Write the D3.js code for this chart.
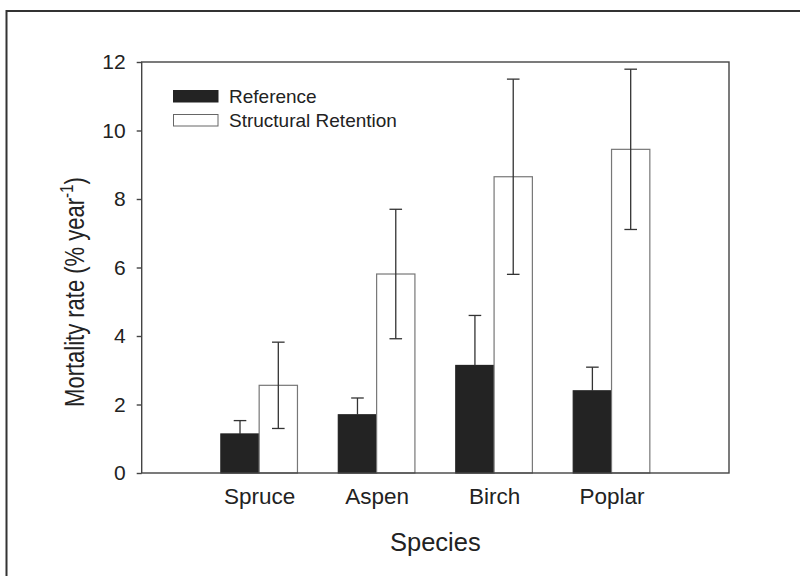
<!DOCTYPE html>
<html>
<head>
<meta charset="utf-8">
<script src="https://cdn.jsdelivr.net/npm/d3@7"></script>
<style>
  html, body { margin: 0; padding: 0; background: #fff; }
  svg { display: block; }
  text { font-family: "Liberation Sans", Arial, sans-serif; fill: #222; }
</style>
</head>
<body>
<svg id="chart" width="800" height="576"></svg>
<script>
const categories = ["Spruce", "Aspen", "Birch", "Poplar"];
const seriesNames = ["Reference", "Structural Retention"];
const referenceValues = [1.14, 1.70, 3.14, 2.40];
const referenceErrors = [0.39, 0.49, 1.46, 0.69];
const retentionValues = [2.56, 5.81, 8.65, 9.45];
const retentionErrors = [1.26, 1.89, 2.85, 2.34];
const yTicks = [0, 2, 4, 6, 8, 10, 12];

(function () {
const svg = d3.select("#chart");
const pLeft = 141.7, pRight = 729, pTop = 62, pBottom = 473;

// outer frame
svg.append("rect")
  .attr("x", 6.5).attr("y", 11).attr("width", 900).attr("height", 700)
  .attr("fill", "none").attr("stroke", "#333").attr("stroke-width", 2);

const x = d3.scalePoint().domain(categories).range([pLeft, pRight]).padding(1);
const y = d3.scaleLinear().domain([0, 12]).range([pBottom, pTop]);
const barW = 38.3;

const rows = categories.map((c, i) => ([
  { cat: c, s: 0, v: referenceValues[i], e: referenceErrors[i] },
  { cat: c, s: 1, v: retentionValues[i], e: retentionErrors[i] }
])).flat();

// bars
svg.append("g").selectAll("rect").data(rows).join("rect")
  .attr("x", d => x(d.cat) + (d.s === 0 ? -barW : 0))
  .attr("y", d => y(d.v))
  .attr("width", barW)
  .attr("height", d => y(0) - y(d.v))
  .attr("fill", d => d.s === 0 ? "#232323" : "#fff")
  .attr("stroke", d => d.s === 0 ? "#232323" : "#777")
  .attr("stroke-width", 1.2);

// error bars
const eg = svg.append("g").attr("stroke", "#333").attr("stroke-width", 1.3);
rows.forEach(d => {
  const cx = x(d.cat) + (d.s === 0 ? -barW / 2 : barW / 2);
  const lo = d.s === 0 ? d.v : d.v - d.e;
  eg.append("line").attr("x1", cx).attr("x2", cx).attr("y1", y(d.v + d.e)).attr("y2", y(lo));
  eg.append("line").attr("x1", cx - 6.3).attr("x2", cx + 6.3).attr("y1", y(d.v + d.e)).attr("y2", y(d.v + d.e));
  if (d.s === 1) {
    eg.append("line").attr("x1", cx - 6.3).attr("x2", cx + 6.3).attr("y1", y(d.v - d.e)).attr("y2", y(d.v - d.e));
  }
});

// plot box
svg.append("rect")
  .attr("x", pLeft).attr("y", pTop).attr("width", pRight - pLeft).attr("height", pBottom - pTop)
  .attr("fill", "none").attr("stroke", "#444").attr("stroke-width", 1.4);

// y axis
const yAxis = svg.append("g").attr("transform", `translate(${pLeft},0)`)
  .call(d3.axisLeft(y).tickValues(yTicks).tickSize(5).tickPadding(11).tickFormat(d3.format("d")));
yAxis.select(".domain").remove();
yAxis.selectAll("line").attr("stroke", "#444").attr("stroke-width", 1.4);
yAxis.selectAll("text").style("font-size", "21px").attr("fill", "#222")
  .style("font-family", "'Liberation Sans', Arial, sans-serif");

// x axis labels (no ticks)
const xAxis = svg.append("g").attr("transform", `translate(0,${pBottom})`)
  .call(d3.axisBottom(x).tickSize(0).tickPadding(15));
xAxis.select(".domain").remove();
xAxis.selectAll("text").style("font-size", "22.5px").attr("fill", "#222")
  .style("font-family", "'Liberation Sans', Arial, sans-serif");

// axis titles
svg.append("text").attr("x", (pLeft + pRight) / 2).attr("y", 551)
  .attr("text-anchor", "middle").style("font-size", "25.5px").text("Species");

const yl = svg.append("text")
  .attr("transform", "translate(84,292) rotate(-90) scale(0.8,1)")
  .attr("text-anchor", "middle").style("font-size", "27.5px");
yl.append("tspan").text("Mortality rate (% year");
yl.append("tspan").attr("dy", -11).style("font-size", "19px").text("-1");
yl.append("tspan").attr("dy", 11).text(")");

// legend
const lg = svg.append("g");
seriesNames.forEach((n, i) => {
  lg.append("rect").attr("x", 173.5).attr("y", 90.5 + i * 24).attr("width", 44.5).attr("height", 11.5)
    .attr("fill", i === 0 ? "#232323" : "#fff")
    .attr("stroke", i === 0 ? "#232323" : "#666").attr("stroke-width", 1);
  lg.append("text").attr("x", 229).attr("y", 103 + i * 24)
    .style("font-size", "19px").text(n);
});
})();
</script>
</body>
</html>
